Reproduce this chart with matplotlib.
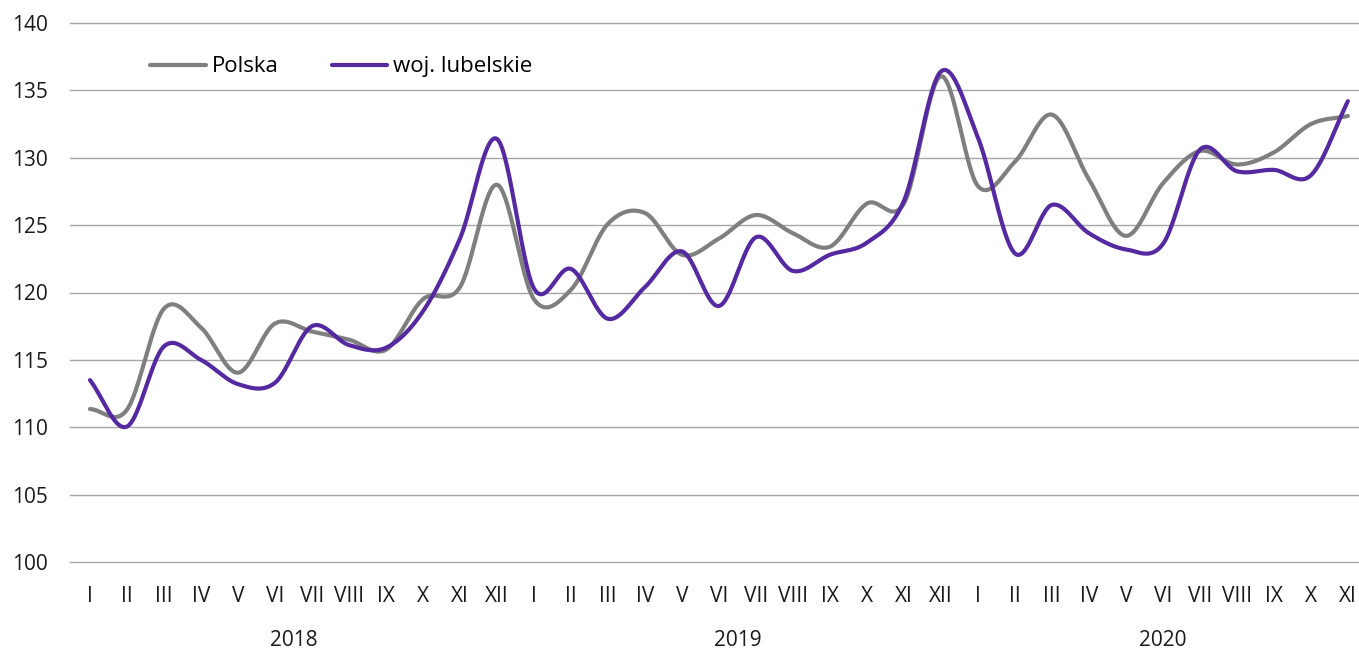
import numpy as np
import matplotlib
matplotlib.use("Agg")
import matplotlib.pyplot as plt

months = ["I", "II", "III", "IV", "V", "VI", "VII", "VIII", "IX", "X", "XI", "XII"]
tick_labels = months + months + months[:11]
years = ["2018", "2019", "2020"]
year_counts = [12, 12, 11]

polska = [111.35, 111.3, 118.8, 117.4, 114.05, 117.7, 117.1, 116.5, 115.75, 119.5, 120.4, 128.0,
          119.5, 120.2, 125.1, 125.9, 122.8, 124.0, 125.75, 124.4, 123.4, 126.6, 126.6, 136.05,
          127.9, 129.7, 133.2, 128.4, 124.2, 128.1, 130.5, 129.5, 130.4, 132.5, 133.1]
lubelskie = [113.5, 110.05, 116.0, 115.0, 113.2, 113.3, 117.5, 116.1, 115.9, 118.6, 124.0, 131.4,
             120.3, 121.75, 118.05, 120.4, 123.05, 119.0, 124.1, 121.6, 122.8, 123.7, 126.8, 136.4,
             131.5, 122.9, 126.5, 124.4, 123.2, 123.6, 130.6, 129.0, 129.1, 128.7, 134.2]


def smooth(y, n=30):
    y = np.asarray(y, float)
    x = np.arange(len(y), dtype=float)
    p = np.concatenate([[2 * y[0] - y[1]], y, [2 * y[-1] - y[-2]]])
    xs, ys = [], []
    for i in range(len(y) - 1):
        p0, p1, p2, p3 = p[i], p[i + 1], p[i + 2], p[i + 3]
        t = np.linspace(0, 1, n, endpoint=False)
        c1 = p1 + (p2 - p0) / 6
        c2 = p2 - (p3 - p1) / 6
        b = (1 - t) ** 3 * p1 + 3 * (1 - t) ** 2 * t * c1 + 3 * (1 - t) * t ** 2 * c2 + t ** 3 * p2
        xs.append(x[i] + t)
        ys.append(b)
    xs.append([x[-1]])
    ys.append([y[-1]])
    return np.concatenate(xs), np.concatenate(ys)


plt.rcParams['font.family'] = ['Open Sans', 'DejaVu Sans']
fig = plt.figure(figsize=(13.59, 6.5), dpi=100)
ax = fig.add_axes([0.0515, 0.1354, 0.9485, 0.8292])

gray = "#7f7f7f"
purple = "#55299f"
xs, ys = smooth(polska)
ax.plot(xs, ys, color=gray, lw=3.0, solid_capstyle="round", label="Polska")
xs, ys = smooth(lubelskie)
ax.plot(xs, ys, color=purple, lw=3.0, solid_capstyle="round", label="woj. lubelskie")

ax.set_ylim(100, 140)
yticks = np.arange(100, 141, 5)
ax.set_yticks(yticks)
ax.set_xlim(-0.54, 34.3)
ax.set_xticks(np.arange(len(tick_labels)))
ax.set_xticklabels(tick_labels)
for yt in yticks:
    ax.axhline(yt, color="#a6a6a6", lw=1.0, zorder=0, clip_on=False)
for s in ax.spines.values():
    s.set_visible(False)
ax.tick_params(axis="both", length=0, labelsize=15, colors="#1a1a1a")
ax.tick_params(axis="x", pad=17)
ax.tick_params(axis="y", pad=16)

start = 0
for yr, c in zip(years, year_counts):
    center = start + (c - 1) / 2
    ax.text(center, -0.145, yr, transform=ax.get_xaxis_transform(), ha="center", va="center",
            fontsize=15, color="#1a1a1a")
    start += c

leg = ax.legend(loc="upper left", bbox_to_anchor=(0.0468, 0.975), ncol=2, frameon=False,
                fontsize=16, handlelength=2.5, handletextpad=0.25, columnspacing=2.4)

fig.savefig("out.png", dpi=100)
